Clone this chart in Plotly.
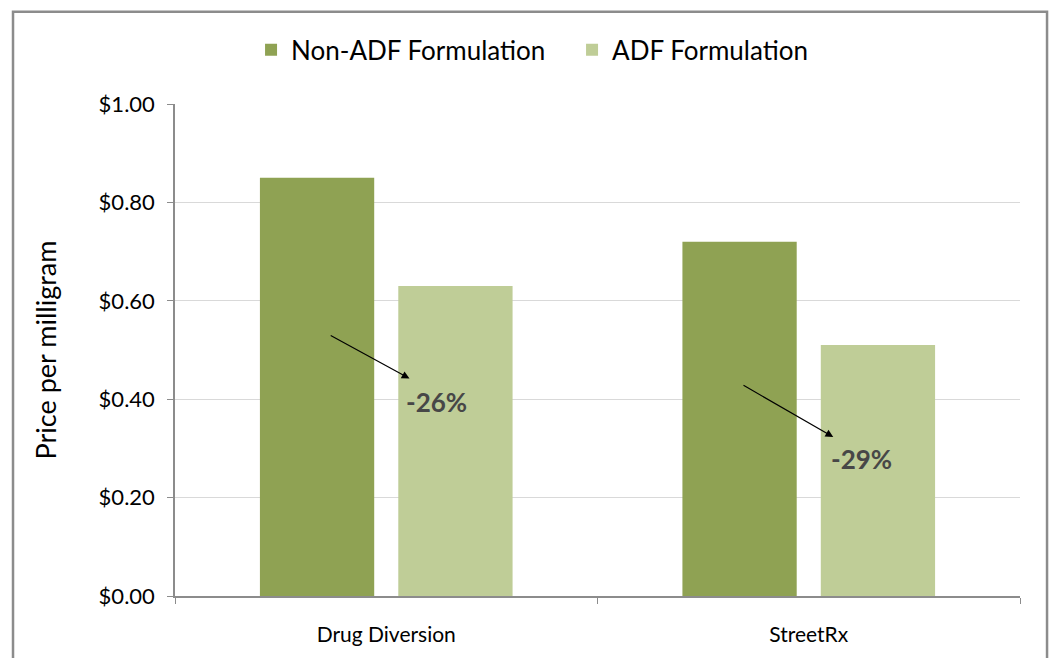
import plotly.graph_objects as go

categories = ["Drug Diversion", "StreetRx"]
non_adf = [0.85, 0.72]
adf = [0.63, 0.51]
series_names = ["Non-ADF Formulation", "ADF Formulation"]
changes = ["-26%", "-29%"]
y_ticks = [0.0, 0.2, 0.4, 0.6, 0.8, 1.0]
y_tick_labels = ["$0.00", "$0.20", "$0.40", "$0.60", "$0.80", "$1.00"]

FONT = "Lato, Open Sans, sans-serif"
c_dark = "rgb(143,162,83)"
c_light = "rgb(191,205,151)"

fig = go.Figure()
fig.add_trace(go.Bar(x=categories, y=non_adf, name=series_names[0],
                     marker=dict(color=c_dark, line=dict(width=0))))
fig.add_trace(go.Bar(x=categories, y=adf, name=series_names[1],
                     marker=dict(color=c_light, line=dict(width=0))))

# arrows (tail near non-ADF bar, head at ADF bar) and percent labels
arrow_specs = [
    dict(tail=(-0.135, 0.531), head=(0.055, 0.442), label=(0.12, 0.394)),
    dict(tail=(0.842, 0.430), head=(1.058, 0.323), label=(1.125, 0.279)),
]
for spec, txt in zip(arrow_specs, changes):
    fig.add_annotation(x=spec["head"][0], y=spec["head"][1], ax=spec["tail"][0], ay=spec["tail"][1],
                       xref="x", yref="y", axref="x", ayref="y", text="", showarrow=True,
                       arrowhead=2, arrowsize=1.3, arrowwidth=1.2, arrowcolor="black")
    fig.add_annotation(x=spec["label"][0], y=spec["label"][1], xref="x", yref="y", text="<b>" + txt + "</b>",
                       showarrow=False, font=dict(family=FONT, size=26, color="#474747"))

# outer frame
fig.add_shape(type="rect", xref="paper", yref="paper", x0=-0.1917, x1=1.032, y0=-0.16, y1=1.1875,
              line=dict(color="#8c8c8c", width=2.5), fillcolor="rgba(0,0,0,0)", layer="below")

fig.update_layout(
    width=1053, height=658,
    margin=dict(l=175, r=33, t=104, b=58),
    paper_bgcolor="white", plot_bgcolor="white",
    barmode="group", bargap=0.345, bargroupgap=0.174,
    font=dict(family=FONT, size=20, color="black"),
    legend=dict(orientation="h", x=0.09, xanchor="left", y=1.11, yanchor="middle",
                font=dict(family=FONT, size=26), itemwidth=30, traceorder="normal",
                entrywidth=276),
    showlegend=True,
)
fig.update_yaxes(range=[0, 1.0], tickvals=y_ticks, ticktext=y_tick_labels,
                 showgrid=True, gridcolor="#d9d9d9", gridwidth=1.2,
                 showline=True, linecolor="#8c8c8c", linewidth=1.5,
                 ticks="outside", ticklen=6, tickcolor="#8c8c8c", ticklabelstandoff=8,
                 zeroline=False,
                 title=dict(text="Price per milligram", font=dict(family=FONT, size=27), standoff=34),
                 tickfont=dict(family=FONT, size=22))
fig.update_xaxes(showline=True, linecolor="#8c8c8c", linewidth=1.5,
                 ticks="outside", ticklen=6, tickcolor="#8c8c8c", tickson="boundaries",
                 tickfont=dict(family=FONT, size=21), ticklabelstandoff=19)

fig.write_html("out.html", config={"displayModeBar": False},
               post_script="document.body.style.margin='0px';")
